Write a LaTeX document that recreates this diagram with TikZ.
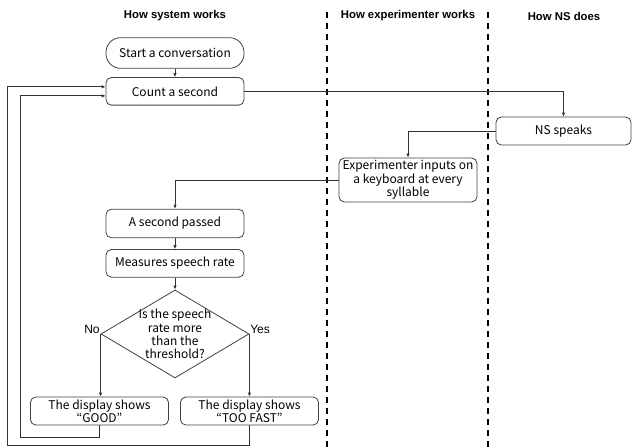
\documentclass[tikz,border=0pt]{standalone}
\usepackage{fontspec}
\setmainfont{Liberation Sans}
\newfontfamily\boxfont{Noto Sans CJK JP}
\usetikzlibrary{positioning,arrows.meta,shapes.geometric}
\tikzset{
  proc/.style={rectangle, rounded corners=4pt, draw=black!75, line width=0.6pt, text=black,
               align=center, minimum width=103.5pt, minimum height=20.7pt, inner sep=1pt,
               font=\boxfont\fontsize{9}{10}\selectfont},
  term/.style={proc, rounded corners=11pt, minimum height=23pt},
  dec/.style={diamond, draw=black!75, line width=0.6pt, minimum width=111pt,
              minimum height=66pt, inner sep=0pt},
  head/.style={font=\bfseries\fontsize{8.5}{10}\selectfont},
  flowarr/.style={-{Latex[length=3pt,width=2.6pt]}, draw=black!80, line width=0.6pt},
  lane/.style={line width=1.5pt, dash pattern=on 4.5pt off 3.75pt},
}

\begin{document}
\begin{tikzpicture}[x=0.75pt, y=-0.75pt]
\useasboundingbox (0,0) rectangle (632,447);
% swim lanes
\draw[lane] (327,12) -- (327,447);
\draw[lane] (488,12) -- (488,447);
\node[head] (hsys) at (175,16) {How system works};
\node[head] (hexp) at (408,16) {How experimenter works};
\node[head] (hns) at (564,16) {How NS does};
% system
\node[term] (start) at (175,53) {Start a conversation};
\node[proc, below=6.3pt of start] (count) {Count a second};
\node[proc, minimum height=21.4pt] (sec) at (175,223.5) {A second passed};
\node[proc, below=8.25pt of sec] (meas) {Measures speech rate};
\node[dec, below=9pt of meas] (thr) {};
\node[align=center, font=\boxfont\fontsize{9}{10}\selectfont] (thrtext) at (thr)
  {Is the speech\\ rate more\\ than the\\ threshold?};
\node[anchor=base east, inner sep=0.5pt, font=\fontsize{9}{10}\selectfont] (no) at (thr.west) {No};
\node[anchor=base west, inner sep=0.5pt, font=\fontsize{9}{10}\selectfont] (yes) at (thr.east) {Yes};
\node[proc, minimum height=21pt] (good) at (99.5,411) {The display shows\\ “GOOD”};
\node[proc, minimum height=21pt] (fast) at (249.5,411) {The display shows\\ “TOO FAST”};
% experimenter and NS
\node[proc, minimum height=33pt] (exp) at (408,180) {Experimenter inputs on\\ a keyboard at every\\ syllable};
\node[proc, minimum width=101.25pt, minimum height=21pt] (ns) at (563.5,131) {NS speaks};
% flow
\foreach \a/\b in {start/count,sec/meas,meas/thr}
  \draw[flowarr] (\a) -- (\b);
\draw[flowarr] (count.east) -| (ns.north);
\draw[flowarr] (ns.west) -| (exp.north);
\draw[flowarr] (exp.west) -| (sec.north);
\draw[flowarr] (thr.west) -- (thr.west |- good.north);
\draw[flowarr] (thr.east) -- (thr.east |- fast.north);
\coordinate (backin) at (20.5,437);
\coordinate (backout) at (7.5,445.5);
\draw[flowarr] (good.south) |- (backin) |- ([yshift=-3.4pt]count.west);
\draw[flowarr] (fast.south) |- (backout) |- ([yshift=3.4pt]count.west);
\end{tikzpicture}
\end{document}
